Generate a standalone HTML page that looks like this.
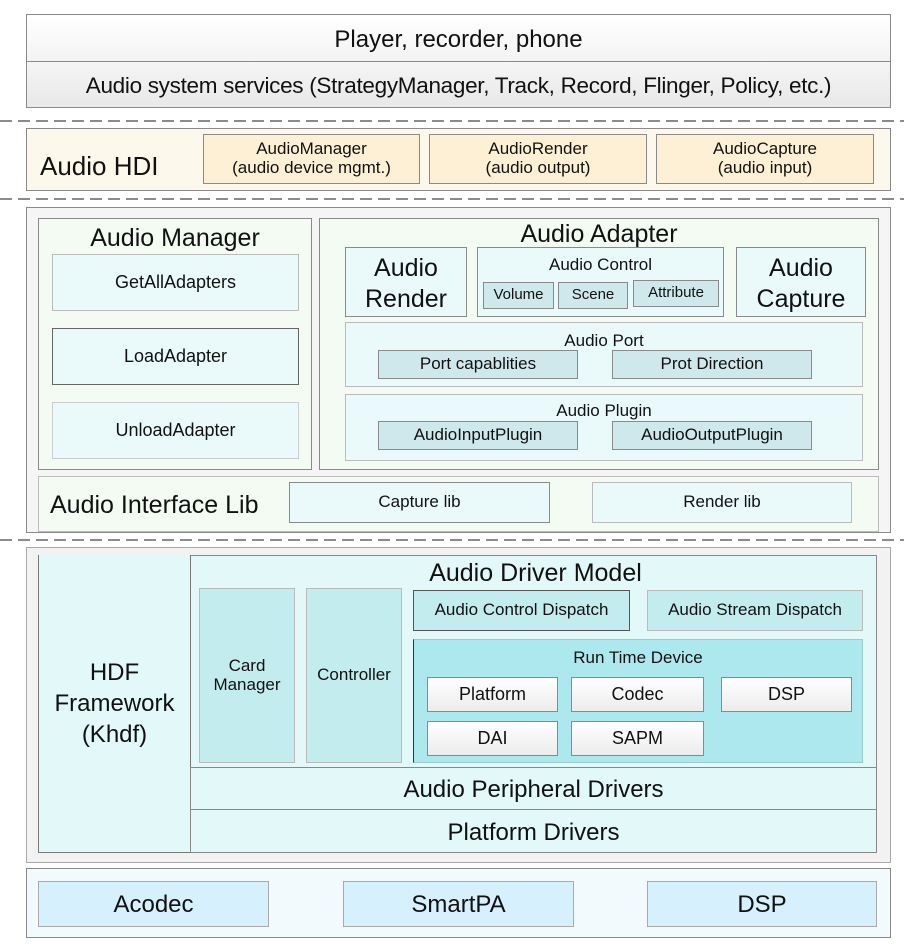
<!DOCTYPE html>
<html><head><meta charset="utf-8"><style>
body{margin:0;width:904px;height:947px;background:#fff;position:relative;overflow:hidden;font-family:"Liberation Sans",sans-serif;color:#111}
.b{position:absolute;box-sizing:border-box;border:1px solid #8a8a8a;display:flex;align-items:center;justify-content:center;text-align:center;line-height:1.1}
.t{position:absolute;text-align:center;white-space:nowrap;line-height:1}
svg.d{position:absolute;left:0;width:904px;height:4px}
</style></head><body>
<!-- top -->
<div class="b" style="left:26px;top:14px;width:865px;height:48px;background:linear-gradient(#fff,#f3f3f3);font-size:24px;border-bottom:none;padding-top:4px">Player, recorder, phone</div>
<div class="b" style="left:26px;top:61px;width:865px;height:47px;background:linear-gradient(#f5f5f5,#e8e8e8);font-size:22.5px;letter-spacing:-0.3px;padding-top:3px">Audio system services (StrategyManager, Track, Record, Flinger, Policy, etc.)</div>
<svg class="d" style="top:119px"><line x1="0" y1="2" x2="904" y2="2" stroke="#666" stroke-width="1.5" stroke-dasharray="12 6"/></svg>
<!-- HDI -->
<div class="b" style="left:26px;top:128px;width:865px;height:63px;background:#fdf8ec"></div>
<div class="t" style="left:40px;top:153px;font-size:26px">Audio HDI</div>
<div class="b" style="left:203px;top:134px;width:217px;height:50px;background:#fdf0d4;font-size:17px">AudioManager<br>(audio device mgmt.)</div>
<div class="b" style="left:429px;top:134px;width:218px;height:50px;background:#fdf0d4;font-size:17px">AudioRender<br>(audio output)</div>
<div class="b" style="left:656px;top:134px;width:218px;height:50px;background:#fdf0d4;font-size:17px">AudioCapture<br>(audio input)</div>
<svg class="d" style="top:197px"><line x1="0" y1="2" x2="904" y2="2" stroke="#666" stroke-width="1.5" stroke-dasharray="12 6"/></svg>
<!-- HAL -->
<div class="b" style="left:26px;top:207px;width:865px;height:326px;background:#f5f5f5"></div>
<div class="b" style="left:38px;top:218px;width:274px;height:252px;background:#f3fbf3"></div>
<div class="t" style="left:38px;width:274px;top:226px;font-size:25px">Audio Manager</div>
<div class="b" style="left:52px;top:254px;width:247px;height:57px;background:#eafafb;border-color:#bbb;font-size:18px">GetAllAdapters</div>
<div class="b" style="left:52px;top:328px;width:247px;height:57px;background:#eafafb;border-color:#666;font-size:18px">LoadAdapter</div>
<div class="b" style="left:52px;top:402px;width:247px;height:57px;background:#eafafb;border-color:#ccc;font-size:18px">UnloadAdapter</div>
<div class="b" style="left:319px;top:218px;width:560px;height:252px;background:#f3fbf3"></div>
<div class="t" style="left:319px;width:560px;top:222px;font-size:25px">Audio Adapter</div>
<div class="b" style="left:345px;top:247px;width:122px;height:70px;background:#eafafb;font-size:25px;line-height:1.22;padding-top:3px">Audio<br>Render</div>
<div class="b" style="left:477px;top:247px;width:247px;height:70px;background:#eafafb"></div>
<div class="t" style="left:477px;width:247px;top:256px;font-size:17px">Audio Control</div>
<div class="b" style="left:483px;top:282px;width:71px;height:27px;background:#cfe8ec;font-size:15px">Volume</div>
<div class="b" style="left:558px;top:282px;width:70px;height:27px;background:#cfe8ec;font-size:15px">Scene</div>
<div class="b" style="left:633px;top:280px;width:86px;height:27px;background:#cfe8ec;font-size:15px">Attribute</div>
<div class="b" style="left:736px;top:247px;width:130px;height:70px;background:#eafafb;font-size:25px;line-height:1.22;padding-top:3px">Audio<br>Capture</div>
<div class="b" style="left:345px;top:322px;width:518px;height:65px;background:#eafafb;border-color:#bbb"></div>
<div class="t" style="left:345px;width:518px;top:332px;font-size:17px">Audio Port</div>
<div class="b" style="left:378px;top:350px;width:200px;height:29px;background:#cfe8ec;font-size:17px">Port capablities</div>
<div class="b" style="left:612px;top:350px;width:200px;height:29px;background:#cfe8ec;font-size:17px">Prot Direction</div>
<div class="b" style="left:345px;top:394px;width:518px;height:67px;background:#eafafb;border-color:#bbb"></div>
<div class="t" style="left:345px;width:518px;top:402px;font-size:17px">Audio Plugin</div>
<div class="b" style="left:378px;top:421px;width:200px;height:29px;background:#cfe8ec;font-size:17px">AudioInputPlugin</div>
<div class="b" style="left:612px;top:421px;width:200px;height:29px;background:#cfe8ec;font-size:17px">AudioOutputPlugin</div>
<div class="b" style="left:38px;top:476px;width:841px;height:56px;background:#f3fbf3;border-color:#bbb"></div>
<div class="t" style="left:50px;top:493px;font-size:25px">Audio Interface Lib</div>
<div class="b" style="left:289px;top:482px;width:261px;height:41px;background:#eafafb;font-size:17px">Capture lib</div>
<div class="b" style="left:592px;top:482px;width:260px;height:41px;background:#eafafb;border-color:#bbb;font-size:17px">Render lib</div>
<svg class="d" style="top:538px"><line x1="0" y1="2" x2="904" y2="2" stroke="#666" stroke-width="1.5" stroke-dasharray="12 6"/></svg>
<!-- Driver -->
<div class="b" style="left:26px;top:547px;width:865px;height:316px;background:#f2f2f2;border-color:#aaa"></div>
<div class="b" style="left:38px;top:555px;width:839px;height:298px;background:#e3f8f8"></div>
<div class="b" style="left:38px;top:555px;width:153px;height:298px;background:#e3f8f8;border-color:#777;border-top:none;font-size:24px;line-height:1.3">HDF<br>Framework<br>(Khdf)</div>
<div class="t" style="left:190px;width:687px;top:561px;font-size:25px;padding-left:2px">Audio Driver Model</div>
<div class="b" style="left:199px;top:588px;width:96px;height:175px;background:#c3ecef;border-color:#bbb;font-size:17px">Card<br>Manager</div>
<div class="b" style="left:306px;top:588px;width:96px;height:175px;background:#c3ecef;border-color:#bbb;font-size:17px">Controller</div>
<div class="b" style="left:413px;top:590px;width:217px;height:41px;background:#c3ecef;border-color:#555;font-size:17px">Audio Control Dispatch</div>
<div class="b" style="left:647px;top:590px;width:216px;height:41px;background:#c3ecef;border-color:#bbb;font-size:17px">Audio Stream Dispatch</div>
<div class="b" style="left:413px;top:639px;width:450px;height:124px;background:#ade8ee;border-color:#9cc;border-left:1.5px solid #333"></div>
<div class="t" style="left:413px;width:450px;top:649px;font-size:17px">Run Time Device</div>
<div class="b" style="left:427px;top:677px;width:131px;height:35px;background:linear-gradient(#fff,#ececec);font-size:18px">Platform</div>
<div class="b" style="left:571px;top:677px;width:133px;height:35px;background:linear-gradient(#fff,#ececec);font-size:18px">Codec</div>
<div class="b" style="left:721px;top:677px;width:131px;height:35px;background:linear-gradient(#fff,#ececec);font-size:18px">DSP</div>
<div class="b" style="left:427px;top:721px;width:131px;height:35px;background:linear-gradient(#fff,#ececec);font-size:18px">DAI</div>
<div class="b" style="left:571px;top:721px;width:133px;height:35px;background:linear-gradient(#fff,#ececec);font-size:18px">SAPM</div>
<div class="b" style="left:190px;top:767px;width:687px;height:43px;background:#e3f8f8;border-color:#888;font-size:24px;padding-top:4px">Audio Peripheral Drivers</div>
<div class="b" style="left:190px;top:809px;width:687px;height:44px;background:#e3f8f8;border-color:#888;font-size:24px;padding-top:4px">Platform Drivers</div>
<!-- HW -->
<div class="b" style="left:26px;top:868px;width:865px;height:70px;background:#f3fafd;border-color:#888"></div>
<div class="b" style="left:38px;top:881px;width:231px;height:46px;background:#d6f0fd;border-color:#aaa;font-size:24px;padding-top:3px">Acodec</div>
<div class="b" style="left:343px;top:881px;width:231px;height:46px;background:#d6f0fd;border-color:#aaa;font-size:24px;padding-top:3px">SmartPA</div>
<div class="b" style="left:647px;top:881px;width:230px;height:46px;background:#d6f0fd;border-color:#aaa;font-size:24px;padding-top:3px">DSP</div>
</body></html>
